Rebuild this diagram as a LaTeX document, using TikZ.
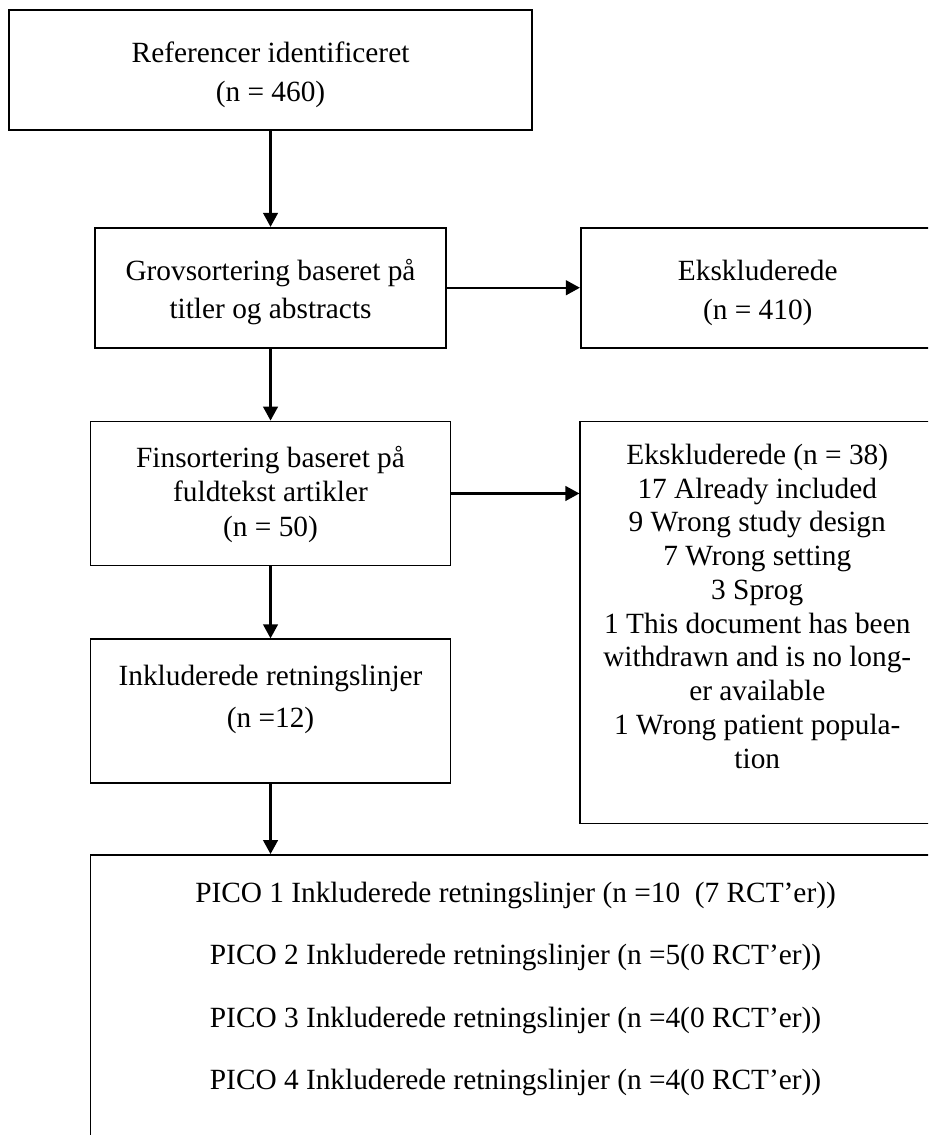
\documentclass[tikz,border=0pt]{standalone}
\usepackage{fontspec}
\setmainfont{Liberation Serif}
\usetikzlibrary{arrows.meta,positioning}
\tikzset{
    box/.style={rectangle, draw, line width=1.3pt, align=flush center, inner sep=0pt},
    flow/.style={-{Triangle[length=10.5pt, width=11pt]}, line width=1.7pt},
}

\begin{document}
\begin{tikzpicture}[node distance=54pt]
    \useasboundingbox (0,0) rectangle (696pt,-851.25pt);
    \clip (0,0) rectangle (696pt,-851.25pt);

    \node[box, text width=392.25pt, text height=39.5pt, text depth=50.5pt, font=\fontsize{22}{29.25}\selectfont] (refs) at (202.9pt,-52.5pt) {Referencer identificeret\\(n = 460)};
    \node[box, text width=263.25pt, text height=39.2pt, text depth=50.8pt, font=\fontsize{22}{28.8}\selectfont, below=72pt of refs] (grov) {Grovsortering baseret på\\titler og abstracts};
    \node[box, text width=265.5pt, text height=39.2pt, text depth=50.8pt, font=\fontsize{22}{29.25}\selectfont, right=99.75pt of grov] (eks1) {Ekskluderede\\(n = 410)};
    \node[box, text width=270pt, text height=34.7pt, text depth=73.3pt, font=\fontsize{22}{25.65}\selectfont, below=of grov] (fin) {Finsortering baseret på\\fuldtekst artikler\\(n = 50)};
    \node[box, text width=265.5pt, text height=32.25pt, text depth=269.25pt, font=\fontsize{22}{25.3}\selectfont, right=96pt of fin.north east, anchor=north west] (eks2) {%
        Ekskluderede (n = 38)\\
        17 Already included\\
        9 Wrong study design\\
        7 Wrong setting\\
        3 Sprog\\
        1 This document has been\\
        withdrawn and is no long-\\
        er available\\
        1 Wrong patient popula-\\
        tion};
    \node[box, text width=270pt, text height=35pt, text depth=73pt, font=\fontsize{22}{31.2}\selectfont, below=of fin] (inkl) {Inkluderede retningslinjer\\(n =12)};
    \node[box, text width=637.5pt, text height=35.5pt, text depth=260pt, font=\fontsize{22}{26.4}\selectfont, below=52.5pt of inkl.south west, anchor=north west] (pico) {%
        PICO 1 Inkluderede retningslinjer (n =10\ \ (7 RCT’er))\\[20.4pt]
        PICO 2 Inkluderede retningslinjer (n =5(0 RCT’er))\\[20.4pt]
        PICO 3 Inkluderede retningslinjer (n =4(0 RCT’er))\\[20.4pt]
        PICO 4 Inkluderede retningslinjer (n =4(0 RCT’er))};

    \draw[flow] (refs.south) -- (refs.south |- grov.north);
    \draw[flow] (grov) -- (eks1);
    \draw[flow] (grov.south) -- (grov.south |- fin.north);
    \draw[flow] (fin.east) -- (fin.east -| eks2.west);
    \draw[flow] (fin.south) -- (fin.south |- inkl.north);
    \draw[flow] (inkl.south) -- (inkl.south |- pico.north);
\end{tikzpicture}
\end{document}
